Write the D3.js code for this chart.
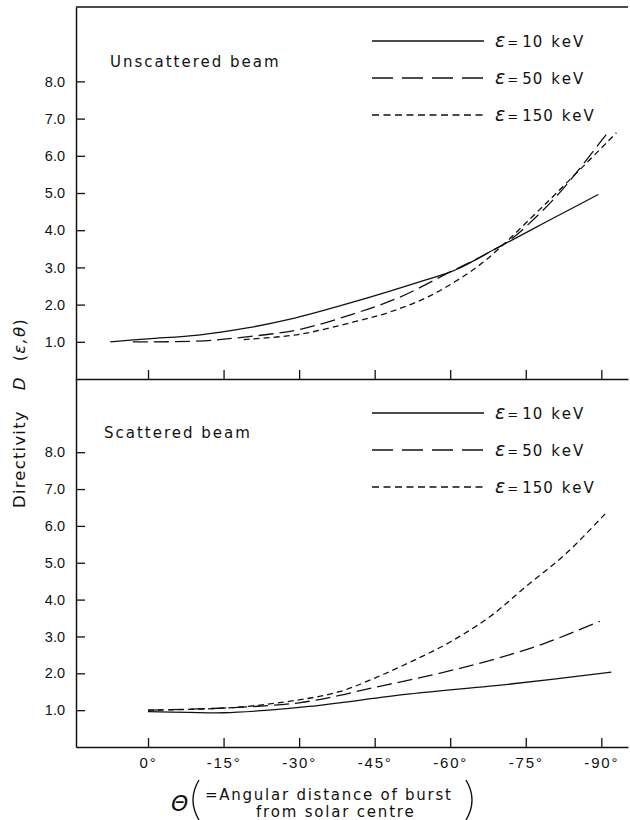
<!DOCTYPE html>
<html>
<head>
<meta charset="utf-8">
<script src="https://cdn.jsdelivr.net/npm/d3@7"></script>
<style>
  body { margin: 0; background: #fff; }
  figure { margin: 0; }
  svg { display: block; font-family: "DejaVu Sans", sans-serif; }
</style>
</head>
<body>
<figure id="chart"></figure>
<script>
// angle of burst from solar centre (deg) and directivity ticks
const THETA_TICKS = [0, -15, -30, -45, -60, -75, -90];
const D_TICKS = [1, 2, 3, 4, 5, 6, 7, 8];
const ENERGY_LABELS = ["10", "50", "150"];

// Unscattered beam
const unscTheta10 = [7.5, 0, -10, -20, -28, -41, -55, -61, -69, -79, -89.4];
const unscD10 = [1.0, 1.08, 1.18, 1.38, 1.6, 2.08, 2.66, 2.93, 3.5, 4.22, 4.96];
const unscTheta50 = [3, -10, -20, -30, -41, -50, -60, -66, -72, -77, -82, -91.6];
const unscD50 = [1.0, 1.02, 1.14, 1.33, 1.76, 2.2, 2.88, 3.28, 3.75, 4.35, 5.05, 6.68];
const unscTheta150 = [-19, -30, -41, -48, -55, -61, -67, -79, -93];
const unscD150 = [1.06, 1.2, 1.54, 1.8, 2.17, 2.62, 3.19, 4.72, 6.62];

// Scattered beam
const scatTheta10 = [0, -8, -15, -24, -32, -38, -52, -72, -92];
const scatD10 = [0.96, 0.94, 0.93, 1.0, 1.1, 1.2, 1.44, 1.71, 2.03];
const scatTheta50 = [0, -17, -30, -38, -45, -52, -60, -69, -78.5, -89.7];
const scatD50 = [1.0, 1.07, 1.2, 1.4, 1.62, 1.82, 2.07, 2.39, 2.8, 3.41];
const scatTheta150 = [0, -17, -30, -38, -45, -52, -60, -68, -75, -83, -91];
const scatD150 = [1.0, 1.07, 1.28, 1.5, 1.87, 2.3, 2.85, 3.55, 4.35, 5.25, 6.36];

const width = 630, height = 820;
const frameLeft = 76, frameRight = 628;
const frameTop = 7, frameMid = 379, frameBottom = 747;

const dashes = ["none", "15,6", "6,4"];
const legendDashes = ["none", "21,9", "7,4.5"];

const svg = d3.select("figure#chart")
  .append("svg")
  .attr("width", width)
  .attr("height", height);

const x = d3.scaleLinear().domain([14.3, -95.3]).range([frameLeft, frameRight]);
const yTop = d3.scaleLinear().domain([0, 10]).range([frameMid, frameTop]);
const yBot = d3.scaleLinear().domain([0, 10]).range([frameBottom, 378.5]);

const zip = (t, d) => t.map((v, i) => ({theta: v, d: d[i]}));

function drawPanel(y, y0, title, titleX, titleY, series, legendY, showXLabels) {
  const g = svg.append("g");

  // left axis, ticks pointing in
  const ya = g.append("g")
    .attr("transform", "translate(" + frameLeft + ",0)")
    .call(d3.axisLeft(y).tickValues(D_TICKS).tickFormat(d3.format(".1f"))
      .tickSizeInner(-9).tickSizeOuter(0).tickPadding(11));
  ya.selectAll("text")
    .style("font-size", "14.5px")
    .attr("fill", "#111");

  // bottom axis, ticks pointing up
  const xa = g.append("g")
    .attr("transform", "translate(0," + y0 + ")")
    .call(d3.axisBottom(x).tickValues(THETA_TICKS)
      .tickFormat(showXLabels ? (d => d + "°") : "")
      .tickSizeInner(-9).tickSizeOuter(0).tickPadding(10));
  xa.selectAll("text")
    .style("font-size", "15px")
    .style("letter-spacing", "1.8px")
    .attr("fill", "#111");

  g.selectAll(".domain").attr("stroke", "#111").attr("stroke-width", 1.5);
  g.selectAll(".tick line").attr("stroke", "#111").attr("stroke-width", 1.3);

  g.append("text")
    .attr("x", titleX)
    .attr("y", titleY)
    .style("font-size", "15px")
    .style("letter-spacing", "2px")
    .attr("fill", "#111")
    .text(title);

  const line = d3.line()
    .x(p => x(p.theta))
    .y(p => y(p.d))
    .curve(d3.curveCatmullRom.alpha(0.5));

  g.selectAll("path.curve")
    .data(series)
    .enter()
    .append("path")
    .attr("class", "curve")
    .attr("d", s => line(s))
    .attr("fill", "none")
    .attr("stroke", "#111")
    .attr("stroke-width", 1.3)
    .attr("stroke-dasharray", (s, i) => dashes[i]);

  // legend
  ENERGY_LABELS.forEach((e, i) => {
    const ly = legendY + i * 37;
    g.append("line")
      .attr("x1", 372).attr("x2", 484)
      .attr("y1", ly).attr("y2", ly)
      .attr("stroke", "#111")
      .attr("stroke-width", 1.3)
      .attr("stroke-dasharray", legendDashes[i]);
    const t = g.append("text")
      .attr("x", 495)
      .attr("y", ly + 6)
      .attr("fill", "#111")
      .style("font-size", "15px");
    t.append("tspan").style("font-style", "italic").style("font-size", "19px").text("ε");
    t.append("tspan").attr("dx", 2).style("font-size", "13px").text("=");
    t.append("tspan").attr("dx", 4).style("letter-spacing", "1px").text(e);
    t.append("tspan").attr("dx", 8).style("letter-spacing", "2.2px").text("keV");
  });
}

// top frame line
svg.append("line")
  .attr("x1", frameLeft).attr("x2", frameRight)
  .attr("y1", frameTop).attr("y2", frameTop)
  .attr("stroke", "#111").attr("stroke-width", 1.5);

drawPanel(yTop, frameMid, "Unscattered beam", 110, 67,
  [zip(unscTheta10, unscD10), zip(unscTheta50, unscD50), zip(unscTheta150, unscD150)], 41, false);
drawPanel(yBot, frameBottom, "Scattered beam", 104, 438,
  [zip(scatTheta10, scatD10), zip(scatTheta50, scatD50), zip(scatTheta150, scatD150)], 413, true);

// y axis title
const yt = svg.append("text")
  .attr("transform", "translate(25,508) rotate(-90)")
  .attr("fill", "#111")
  .style("font-size", "16.5px")
  .style("letter-spacing", "1.2px");
yt.append("tspan").text("Directivity");
yt.append("tspan").attr("dx", 20).style("font-style", "italic").text("D");
yt.append("tspan").attr("dx", 15).text("(");
yt.append("tspan").style("font-style", "italic").text("ε,θ");
yt.append("tspan").text(")");

// x axis title
svg.append("text")
  .attr("x", 171).attr("y", 811)
  .attr("fill", "#111")
  .style("font-size", "22px")
  .style("font-style", "italic")
  .text("Θ");
svg.append("path")
  .attr("d", "M199,780 Q187,800 199,820")
  .attr("fill", "none").attr("stroke", "#111").attr("stroke-width", 1.4);
svg.append("path")
  .attr("d", "M466,780 Q478,800 466,820")
  .attr("fill", "none").attr("stroke", "#111").attr("stroke-width", 1.4);
svg.append("text")
  .attr("x", 205).attr("y", 800)
  .attr("fill", "#111")
  .style("font-size", "15px")
  .style("letter-spacing", "1.75px")
  .text("=Angular distance of burst");
svg.append("text")
  .attr("x", 256).attr("y", 817)
  .attr("fill", "#111")
  .style("font-size", "15px")
  .style("letter-spacing", "1.8px")
  .text("from solar centre");
</script>
</body>
</html>
